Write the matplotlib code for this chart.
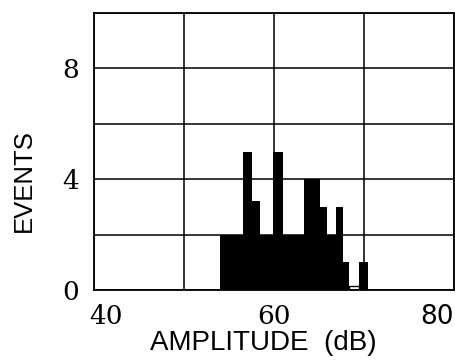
import matplotlib
matplotlib.use("Agg")
import matplotlib.pyplot as plt
import matplotlib.transforms as mtransforms

# histogram: bin edges (dB) and counts per bin
edges = [54.0, 56.6, 57.6, 58.4, 59.9, 61.0, 63.3, 65.1, 65.9, 66.9, 67.7, 68.3, 69.4, 70.4]
counts = [2, 5, 3.2, 2, 5, 2, 4, 3, 2, 3, 1, 0, 1]
empty_bin_line = 0.15   # the empty bin is drawn as a thin line just above zero

xticks = [40, 50, 60, 70, 80]
xlabels = ["40", "", "60", "", "80"]
yticks = [0, 2, 4, 6, 8, 10]
ylabels = ["0", "", "4", "", "8", ""]


def main():
    fig = plt.figure(figsize=(4.55, 3.64), dpi=100)
    ax = fig.add_axes([94 / 455, 1 - 290 / 364, 360 / 455, 277 / 364])

    ax.stairs(counts, edges, fill=True, color="black", baseline=0)
    ax.stairs([empty_bin_line], edges[11:13], color="black", linewidth=1)

    ax.set_xlim(40, 80)
    ax.set_ylim(0, 10)
    ax.set_xticks(xticks, labels=xlabels)
    ax.set_yticks(yticks, labels=ylabels)
    ax.grid(True, color="black", linewidth=1.1)
    ax.set_axisbelow(True)
    ax.tick_params(length=0, labelsize=19)
    ax.tick_params(axis="y", pad=11)
    ax.tick_params(axis="x", pad=10)
    for lab in ax.get_xticklabels() + ax.get_yticklabels():
        lab.set_family("DejaVu Serif")

    # first and last x labels sit inside the axis ends
    xl = ax.get_xticklabels()
    xl[0].set_horizontalalignment("left")
    xl[0].set_transform(xl[0].get_transform() +
                        mtransforms.ScaledTranslation(-5 / 100, 0, fig.dpi_scale_trans))
    xl[-1].set_horizontalalignment("right")
    xl[-1].set_family("DejaVu Sans")

    for s in ax.spines.values():
        s.set_color("black")
        s.set_linewidth(1.3)

    fig.text(263 / 455, 1 - 343 / 364, "AMPLITUDE  (dB)", ha="center", va="center",
             fontsize=20, family="Liberation Sans")
    fig.text(24 / 455, 1 - 181 / 364, "EVENTS", ha="center", va="center",
             rotation=90, fontsize=18.5, family="Liberation Sans")

    fig.savefig("out.png", dpi=100)


if __name__ == "__main__":
    main()
